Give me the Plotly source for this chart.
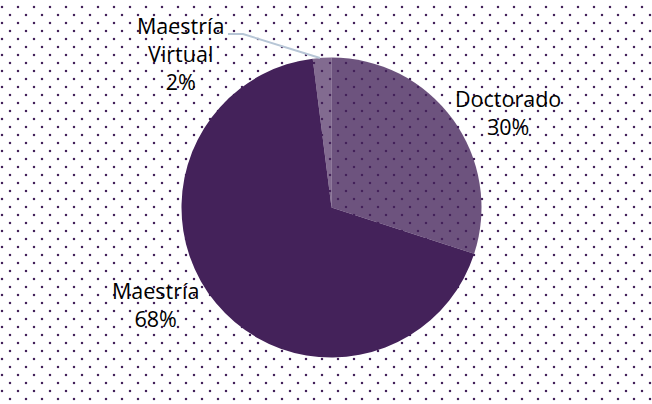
import numpy as np
import plotly.graph_objects as go

# ---- data ----
categories = ["Doctorado", "Maestría", "Maestría Virtual"]
label_lines = ["Doctorado", "Maestría", "Maestría<br>Virtual"]
values = [30, 68, 2]

# ---- style ----
W, H = 652, 404
base = (68, 34, 90)
slice_alpha = [0.78, 1.0, 0.67]
slice_colors = [f"rgba({base[0]},{base[1]},{base[2]},{a})" for a in slice_alpha]
dot_color = f"rgb({base[0]},{base[1]},{base[2]})"

# label block centres in pixel space (x, y)
label_pos = [(508, 112), (155, 304), (180, 53)]

fig = go.Figure()

# background dot texture (staggered grid)
xs, ys = [], []
for r, yy in enumerate(np.arange(7, H + 8, 8)):
    off = 2 if r % 2 == 0 else 10
    for xx in np.arange(off, W + 16, 16):
        xs.append(xx)
        ys.append(yy)
fig.add_trace(go.Scatter(
    x=xs, y=ys, mode="markers",
    marker=dict(symbol="square", size=2.2, color=dot_color, line=dict(width=0)),
    hoverinfo="skip", showlegend=False,
))

cx, cy, rad = 331.5, 207.5, 150
fig.add_trace(go.Pie(
    labels=categories, values=values, sort=False, direction="clockwise",
    rotation=0, textinfo="none", hoverinfo="label+percent",
    marker=dict(colors=slice_colors, line=dict(width=0)),
    domain=dict(x=[(cx - rad) / W, (cx + rad) / W],
                y=[1 - (cy + rad) / H, 1 - (cy - rad) / H]),
    showlegend=False,
))

total = sum(values)
for lab, v, (px, py) in zip(label_lines, values, label_pos):
    fig.add_annotation(
        x=px, y=py, xref="x", yref="y",
        text=f"{lab}<br>{round(100 * v / total)}%",
        showarrow=False, align="center",
        font=dict(family="Open Sans", size=21.5, color="#000000"),
    )

# leader line for the small slice
fig.add_shape(type="path", xref="x", yref="y",
              path="M 228 34 L 243 34 L 320 58",
              line=dict(color="#b7c6d6", width=2), layer="above")

fig.update_xaxes(range=[0, W], visible=False, fixedrange=True)
fig.update_yaxes(range=[H, 0], visible=False, fixedrange=True)
fig.update_layout(
    width=W, height=H, margin=dict(l=0, r=0, t=0, b=0),
    paper_bgcolor="white", plot_bgcolor="rgba(0,0,0,0)",
)
fig.write_html("out.html", config={"displayModeBar": False},
               post_script="document.body.style.margin='0';")
